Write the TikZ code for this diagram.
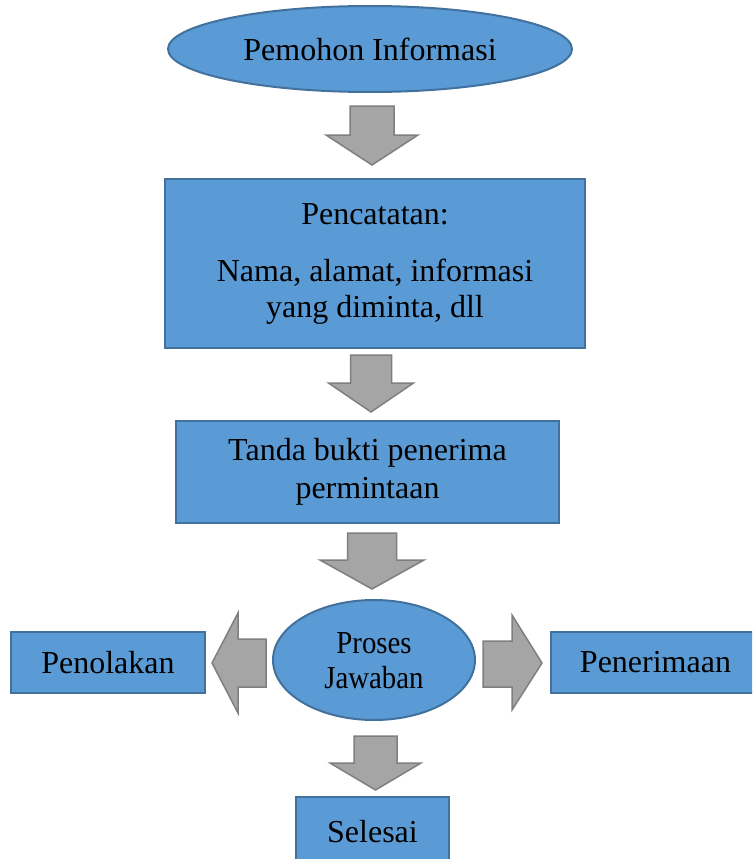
\documentclass[tikz,border=0pt]{standalone}
\usepackage{fontspec}
\setmainfont{Liberation Serif}
\usepackage{graphicx}
\usepackage{xcolor}
\usetikzlibrary{shapes.geometric, positioning}

\definecolor{boxblue}{HTML}{5B9BD5}
\definecolor{boxline}{HTML}{41719C}
\definecolor{arrowgray}{HTML}{A5A5A5}
\definecolor{arrowline}{HTML}{7F7F7F}

\tikzset{
    box/.style={draw=boxline, fill=boxblue, line width=2pt, inner sep=0pt, align=center, font=\fontsize{32}{36}\selectfont},
    oval/.style={box, ellipse},
    blockarrow/.style={draw=arrowline, fill=arrowgray, line width=1.5pt, line join=miter}
}

\begin{document}
\begin{tikzpicture}[x=1pt, y=-1pt]
    \useasboundingbox (0,0) rectangle (752,859);
    \clip (0,0) rectangle (752,859);
    % main column
    \node[oval, minimum width=404pt, minimum height=86pt] (pemohon) at (370,49) {Pemohon Informasi};
    \node[box, minimum width=420pt, minimum height=169pt] (pencatatan) at (375,263.5) {Pencatatan:\\[21pt] Nama, alamat, informasi\\ yang diminta, dll};
    \node[box, minimum width=383pt, minimum height=102pt, font=\fontsize{32}{38}\selectfont] (tanda) at (367.5,472) {Tanda bukti penerima\\ permintaan};
    \node[oval, minimum width=202pt, minimum height=120pt, font=\fontsize{32}{35}\selectfont] (proses) at (374,660) {\raisebox{-4pt}[\height][\depth]{\scalebox{0.9}[1]{\begin{tabular}{@{}c@{}}Proses\\ Jawaban\end{tabular}}}};
    \node[box, minimum width=153pt, minimum height=70pt] (selesai) at (372.5,832) {Selesai};
    % sides
    \node[box, minimum width=194pt, minimum height=61pt] (penolakan) at (108,662.5) {Penolakan};
    \node[box, minimum width=209pt, minimum height=61pt] (penerimaan) at (655.5,662.5) {Penerimaan};
    % down arrows
    \foreach \cx/\ta/\hb/\tp/\sw/\hw in {372/106/135/165/22/46, 371/355/383/412/20.5/42.5, 372/533/560/589/24.5/52, 375.5/736/763/790/21.5/45.5}
        \draw[blockarrow] (\cx-\sw,\ta) -- (\cx+\sw,\ta) -- (\cx+\sw,\hb) -- (\cx+\hw,\hb) -- (\cx,\tp) -- (\cx-\hw,\hb) -- (\cx-\sw,\hb) -- cycle;
    % side arrows
    \draw[blockarrow] (266,639) -- (266,687) -- (238,687) -- (238,713) -- (212,663) -- (238,613) -- (238,639) -- cycle;
    \draw[blockarrow] (483,641) -- (483,687) -- (512,687) -- (512,710) -- (542,663) -- (512,615) -- (512,641) -- cycle;
\end{tikzpicture}
\end{document}
